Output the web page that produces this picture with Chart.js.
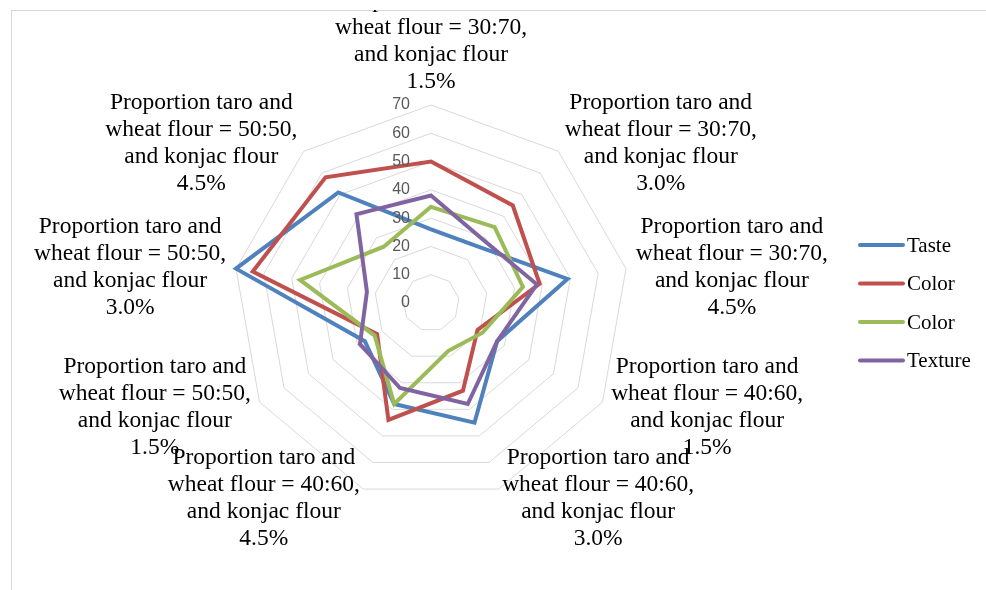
<!DOCTYPE html>
<html>
<head>
<meta charset="utf-8">
<script src="https://cdn.jsdelivr.net/npm/chart.js@4"></script>
<style>
  html, body { margin: 0; padding: 0; background: #fff; }
  #wrap { width: 986px; height: 590px; }
</style>
</head>
<body>
<div id="wrap"><canvas id="radarChart" width="986" height="590"></canvas></div>
<script>
const ratios = ["30:70", "30:70", "30:70", "40:60", "40:60", "40:60", "50:50", "50:50", "50:50"];
const konjac = ["1.5%", "3.0%", "4.5%", "1.5%", "3.0%", "4.5%", "1.5%", "3.0%", "4.5%"];
const categories = ratios.map((r, i) => [
  "Proportion taro and",
  "wheat flour = " + r + ",",
  "and konjac flour",
  konjac[i],
]);
const seriesNames = ["Taste", "Color", "Color", "Texture"];
const tasteValues = [26, 26, 49, 27, 45, 38, 27, 70, 51];
const colorValues = [50, 45, 39, 19, 33, 44, 22, 64, 58];
const color2Values = [34, 35, 33, 21, 18, 38, 23, 47, 26];
const textureValues = [38, 29, 38, 27, 38, 32, 29, 23, 41];
const tickValues = [0, 10, 20, 30, 40, 50, 60, 70];

// Excel-style labels, ticks, legend and frame
const excelLook = {
  id: "excelLook",
  beforeDraw(chart) {
    const ctx = chart.ctx;
    ctx.save();
    ctx.fillStyle = "#fff";
    ctx.fillRect(0, 0, chart.width, chart.height);
    ctx.strokeStyle = "#d9d9d9";
    ctx.lineWidth = 1;
    ctx.strokeRect(11.5, 10.5, chart.width + 20, chart.height + 20);
    ctx.restore();
  },
  afterDraw(chart) {
    const ctx = chart.ctx;
    const scale = chart.scales.r;
    ctx.save();

    ctx.font = "16px 'Liberation Sans'";
    ctx.fillStyle = "#595959";
    ctx.textAlign = "right";
    ctx.textBaseline = "middle";
    tickValues.forEach((v) => {
      const y = scale.yCenter - scale.getDistanceFromCenterForValue(v);
      ctx.fillText(String(v), scale.xCenter - 21, y);
    });

    ctx.beginPath();
    ctx.rect(11, 10, chart.width, chart.height);
    ctx.clip();

    ctx.font = "23.5px 'Liberation Serif'";
    ctx.fillStyle = "#000";
    ctx.textAlign = "center";
    const lh = 27;
    chart.data.labels.forEach((lines, i) => {
      const p = scale.getPointPosition(i, scale.drawingArea + 10);
      const w = Math.max(...lines.map((l) => ctx.measureText(l).width));
      const h = lines.length * lh;
      const dx = Math.cos(p.angle);
      let cx = p.x;
      let top;
      if (Math.abs(dx) < 0.05) {
        top = p.y < scale.yCenter ? p.y - h : p.y;
      } else {
        cx = dx > 0 ? p.x + w / 2 : p.x - w / 2;
        top = p.y - h / 2;
      }
      lines.forEach((l, j) => ctx.fillText(l, cx, top + lh * (j + 0.5)));
    });

    ctx.font = "21px 'Liberation Serif'";
    ctx.textAlign = "left";
    chart.data.datasets.forEach((ds, i) => {
      const y = 245 + i * 38.5;
      ctx.strokeStyle = ds.borderColor;
      ctx.lineWidth = 4;
      ctx.lineCap = "round";
      ctx.beginPath();
      ctx.moveTo(860, y);
      ctx.lineTo(903, y);
      ctx.stroke();
      ctx.fillStyle = "#000";
      ctx.fillText(ds.label, 907, y + 1);
    });
    ctx.restore();
  },
};

const colors = ["#4F81BD", "#C0504D", "#9BBB59", "#8064A2"];
const values = [tasteValues, colorValues, color2Values, textureValues];

const ctx = document.getElementById("radarChart").getContext("2d");
new Chart(ctx, {
  type: "radar",
  data: {
    labels: categories,
    datasets: seriesNames.map((name, i) => ({
      label: name,
      data: values[i],
      borderColor: colors[i],
      backgroundColor: colors[i],
      borderWidth: 4,
      fill: false,
      pointRadius: 0,
      pointHoverRadius: 0,
      tension: 0,
      clip: false,
      order: 4 - i,
    })),
  },
  options: {
    responsive: false,
    animation: false,
    layout: {
      padding: { left: 233, right: 357, top: 105, bottom: 89 },
    },
    plugins: {
      legend: { display: false },
      tooltip: { enabled: false },
    },
    scales: {
      r: {
        min: 0,
        max: 70,
        ticks: { stepSize: 10, display: false },
        pointLabels: { display: false },
        angleLines: { display: false },
        grid: { color: "#d9d9d9", lineWidth: 1 },
      },
    },
  },
  plugins: [excelLook],
});
</script>
</body>
</html>
